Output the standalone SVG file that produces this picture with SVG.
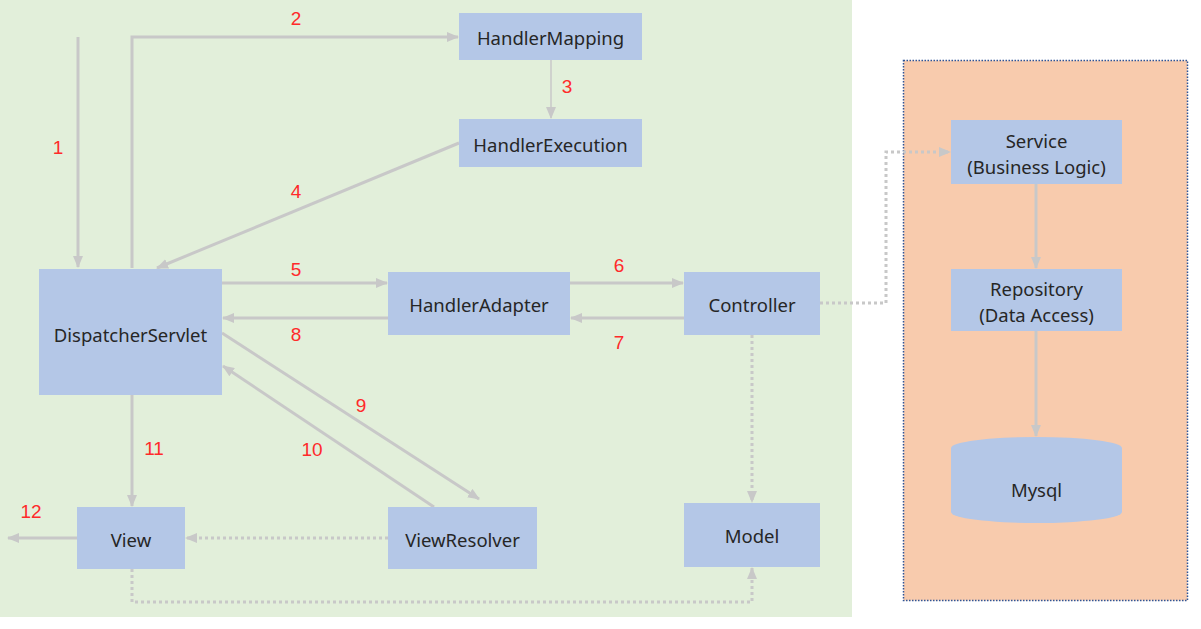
<svg xmlns="http://www.w3.org/2000/svg" width="1201" height="629" viewBox="0 0 1201 629">
<style>
.node{fill:#B4C7E7;}
.lbl{font-family:"Noto Sans","Liberation Sans",sans-serif;font-size:18.5px;fill:#262626;text-anchor:middle;dominant-baseline:central;}
.num{font-family:"Liberation Sans",Arial,sans-serif;font-size:19px;fill:#FF2A2A;text-anchor:middle;dominant-baseline:central;}
.c{stroke:#C8C8C8;stroke-width:3;fill:none;}
.thin{stroke:#C8C8C8;stroke-width:1.5;fill:none;}
.dot{stroke:#C8C8C8;stroke-width:3;fill:none;stroke-dasharray:3 3;}
</style>
<defs>
<marker id="ah" markerWidth="12" markerHeight="10" refX="11" refY="5" orient="auto" markerUnits="userSpaceOnUse">
<path d="M0,0 L12,5 L0,10 Z" fill="#C8C8C8"/>
</marker>
</defs>
<rect x="0" y="0" width="852" height="617" fill="#E2EFDA"/>
<rect id="backend" x="903.5" y="60.5" width="284" height="540" fill="#F8CBAD" stroke="#2F5597" stroke-width="1.5" stroke-dasharray="1.5 1.5"/>
<g id="connectors">
<line class="c" x1="78" y1="37" x2="78" y2="267" marker-end="url(#ah)"/>
<polyline class="c" points="132,268 132,37 458,37" marker-end="url(#ah)"/>
<line class="thin" x1="551" y1="60" x2="551" y2="118" marker-end="url(#ah)"/>
<line class="c" x1="459" y1="143" x2="157" y2="268" marker-end="url(#ah)"/>
<line class="c" x1="222" y1="283" x2="387" y2="283" marker-end="url(#ah)"/>
<line class="c" x1="388" y1="318" x2="223" y2="318" marker-end="url(#ah)"/>
<line class="c" x1="570" y1="283" x2="683" y2="283" marker-end="url(#ah)"/>
<line class="c" x1="684" y1="318" x2="571" y2="318" marker-end="url(#ah)"/>
<line class="c" x1="222" y1="333" x2="479" y2="499" marker-end="url(#ah)"/>
<line class="c" x1="434" y1="507" x2="223" y2="366" marker-end="url(#ah)"/>
<line class="c" x1="132" y1="395" x2="132" y2="506" marker-end="url(#ah)"/>
<line class="c" x1="77" y1="538" x2="8" y2="538" marker-end="url(#ah)"/>
<line class="dot" x1="388" y1="538" x2="186" y2="538" marker-end="url(#ah)"/>
<polyline class="dot" points="132,569 132,602 752,602 752,568" marker-end="url(#ah)"/>
<line class="dot" x1="752" y1="335" x2="752" y2="502" marker-end="url(#ah)"/>
<polyline class="dot" points="820,303 886,303 886,152 950,152" marker-end="url(#ah)"/>
<line class="c" x1="1036" y1="184" x2="1036" y2="268" marker-end="url(#ah)"/>
<line class="c" x1="1036" y1="331" x2="1036" y2="436" marker-end="url(#ah)"/>
</g>
<g id="labels">
<text class="num" x="58" y="147">1</text>
<text class="num" x="296" y="18">2</text>
<text class="num" x="567" y="86">3</text>
<text class="num" x="296" y="191">4</text>
<text class="num" x="296" y="269">5</text>
<text class="num" x="619" y="265">6</text>
<text class="num" x="619" y="342">7</text>
<text class="num" x="296" y="334">8</text>
<text class="num" x="361" y="405">9</text>
<text class="num" x="312" y="449">10</text>
<text class="num" x="154" y="448">11</text>
<text class="num" x="31" y="511">12</text>
</g>
<g id="HandlerMapping"><rect class="node" x="459" y="13" width="183" height="47"/><text class="lbl" x="550.5" y="37">HandlerMapping</text></g>
<g id="HandlerExecution"><rect class="node" x="459" y="119" width="183" height="48"/><text class="lbl" x="550.5" y="144">HandlerExecution</text></g>
<g id="DispatcherServlet"><rect class="node" x="39" y="269" width="183" height="126"/><text class="lbl" x="130.5" y="334">DispatcherServlet</text></g>
<g id="HandlerAdapter"><rect class="node" x="388" y="272" width="182" height="63"/><text class="lbl" x="479" y="304">HandlerAdapter</text></g>
<g id="Controller"><rect class="node" x="684" y="272" width="136" height="63"/><text class="lbl" x="752" y="304">Controller</text></g>
<g id="View"><rect class="node" x="77" y="507" width="108" height="62"/><text class="lbl" x="131" y="539">View</text></g>
<g id="ViewResolver"><rect class="node" x="388" y="507" width="149" height="62"/><text class="lbl" x="462.5" y="539">ViewResolver</text></g>
<g id="Model"><rect class="node" x="684" y="503" width="136" height="64"/><text class="lbl" x="752" y="535">Model</text></g>
<g id="Service"><rect class="node" x="951" y="120" width="171" height="64"/><text class="lbl" x="1036.5" y="140">Service</text><text class="lbl" x="1036.5" y="166">(Business Logic)</text></g>
<g id="Repository"><rect class="node" x="951" y="269" width="171" height="62"/><text class="lbl" x="1036.5" y="288">Repository</text><text class="lbl" x="1036.5" y="314">(Data Access)</text></g>
<g id="Mysql"><path class="node" d="M951,448 A85.5,11 0 0 1 1122,448 L1122,512 A85.5,11 0 0 1 951,512 Z"/><text class="lbl" x="1036.5" y="489">Mysql</text></g>
</svg>
